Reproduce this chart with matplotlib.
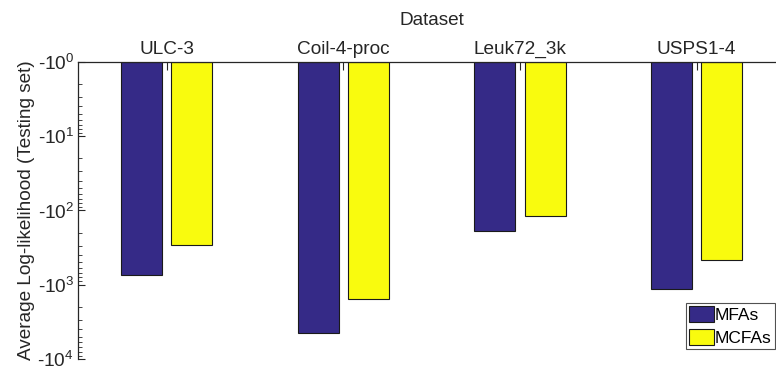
import numpy as np
import matplotlib.pyplot as plt
from matplotlib.ticker import FixedLocator, LogLocator, NullFormatter

plt.rcParams['font.family'] = ['Liberation Sans', 'DejaVu Sans']
plt.rcParams['mathtext.fontset'] = 'custom'
plt.rcParams['mathtext.rm'] = 'Liberation Sans'

datasets = ["ULC-3", "Coil-4-proc", "Leuk72_3k", "USPS1-4"]
mfas = [-742, -4520, -192, -1135]
mcfas = [-295, -1550, -119, -462]
series = ["MFAs", "MCFAs"]
colors = ["#352a87", "#f9fb0e"]

ink = "#262626"
fig = plt.figure(figsize=(7.76, 3.78), dpi=100)
ax = fig.add_axes([0.1009, 0.0503, 0.9107, 0.7865])

x = np.arange(1, len(datasets) + 1)
w = 0.232
off = 0.143
for vals, name, col, d in zip([mfas, mcfas], series, colors, [-off, off]):
    mag = -np.array(vals, dtype=float)
    ax.bar(x + d, mag - 1, bottom=1, width=w, color=col, edgecolor="#1a1a1a",
           linewidth=0.8, label=name)

ax.set_yscale("log")
ax.set_ylim(1e4, 1)
ax.set_xlim(0.5, 4.5)

ax.xaxis.set_ticks_position("top")
ax.xaxis.set_label_position("top")
ax.set_xticks(x)
ax.set_xticklabels(datasets)
ax.set_xlabel("Dataset", fontsize=13.7, color=ink, labelpad=11)

ax.yaxis.set_major_locator(FixedLocator([1, 10, 100, 1000, 10000]))
ax.set_yticklabels([r"-10$^{%d}$" % i for i in range(5)])
ax.yaxis.set_minor_locator(LogLocator(base=10, subs=np.arange(2, 10)))
ax.yaxis.set_minor_formatter(NullFormatter())
ax.set_ylabel("Average Log-likelihood (Testing set)", fontsize=13.7, color=ink, labelpad=2)

ax.tick_params(axis="both", which="both", direction="in", colors=ink, labelsize=13.7)
ax.tick_params(axis="x", length=6, width=0.8, pad=3)
ax.tick_params(axis="y", which="major", length=5, width=0.8, pad=3)
ax.tick_params(axis="y", which="minor", length=3, width=0.6)

ax.spines["right"].set_visible(False)
ax.spines["bottom"].set_visible(False)
for s in ["left", "top"]:
    ax.spines[s].set_color(ink)
    ax.spines[s].set_linewidth(0.9)

leg = ax.legend(loc="lower right", fontsize=12.5, frameon=True, fancybox=False,
                handlelength=1.44, handleheight=1.03, handletextpad=0.05,
                labelspacing=0.33, borderpad=0.2, borderaxespad=0.57)
leg.get_frame().set_edgecolor(ink)
leg.get_frame().set_linewidth(0.8)

fig.savefig("out.png", dpi=100)
